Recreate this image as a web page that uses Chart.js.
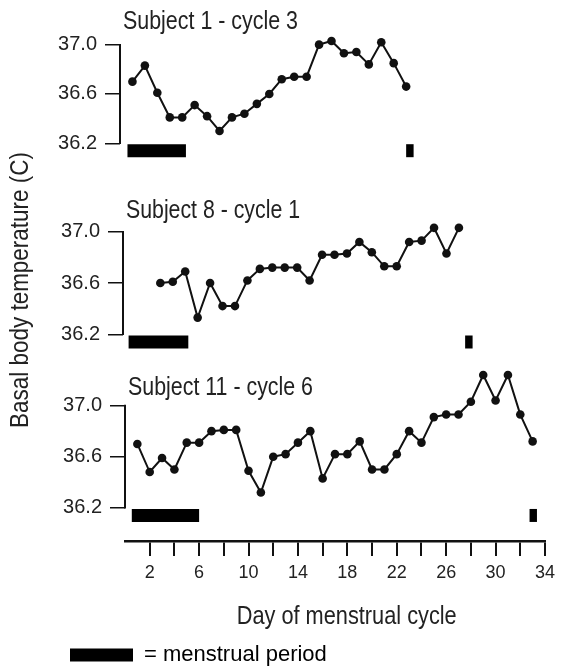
<!DOCTYPE html>
<html>
<head>
<meta charset="utf-8">
<script src="https://cdn.jsdelivr.net/npm/chart.js@4.4.1/dist/chart.umd.min.js"></script>
<style>
  html, body { margin: 0; padding: 0; background: #fff; overflow: hidden; }
  #wrap { position: relative; width: 561px; height: 668px; overflow: hidden; }
  #wrap canvas { position: absolute; top: 0; }
</style>
</head>
<body>
<div id="wrap">
  <canvas id="c1" width="561" height="668" style="left:-5px"></canvas>
  <canvas id="c2" width="561" height="668" style="left:-2px"></canvas>
  <canvas id="c3" width="561" height="676" style="left:0px"></canvas>
</div>
<script>
// basal body temperature readings
const days1 = [1, 2, 3, 4, 5, 6, 7, 8, 9, 10, 11, 12, 13, 14, 15, 16, 17, 18, 19, 20, 21, 22, 23];
const temps1 = [36.7, 36.83, 36.61, 36.41, 36.41, 36.51, 36.42, 36.3, 36.41, 36.44, 36.52, 36.6, 36.72, 36.74, 36.74, 37.0, 37.03, 36.93, 36.94, 36.84, 37.02, 36.85, 36.66];
const period1 = [0.6, 5.3];
const nextPeriod1 = 23.0;

const days2 = [3, 4, 5, 6, 7, 8, 9, 10, 11, 12, 13, 14, 15, 16, 17, 18, 19, 20, 21, 22, 23, 24, 25, 26, 27];
const temps2 = [36.6, 36.61, 36.69, 36.33, 36.6, 36.42, 36.42, 36.62, 36.71, 36.72, 36.72, 36.72, 36.62, 36.82, 36.82, 36.83, 36.92, 36.84, 36.73, 36.73, 36.92, 36.93, 37.03, 36.83, 37.03];
const period2 = [0.45, 5.25];
const nextPeriod2 = 27.5;

const days3 = [1, 2, 3, 4, 5, 6, 7, 8, 9, 10, 11, 12, 13, 14, 15, 16, 17, 18, 19, 20, 21, 22, 23, 24, 25, 26, 27, 28, 29, 30, 31, 32, 33];
const temps3 = [36.7, 36.48, 36.59, 36.5, 36.71, 36.71, 36.8, 36.81, 36.81, 36.49, 36.32, 36.6, 36.62, 36.71, 36.8, 36.43, 36.62, 36.62, 36.72, 36.5, 36.5, 36.62, 36.8, 36.71, 36.91, 36.93, 36.93, 37.03, 37.24, 37.04, 37.24, 36.93, 36.72];
const period3 = [0.55, 6.0];
const nextPeriod3 = 32.75;

const tempTicks = [36.2, 36.6, 37.0];
const dayLabels = [2, 6, 10, 14, 18, 22, 26, 30, 34];

const ink = '#111';
const textInk = '#222';
const fontFamily = "'Liberation Sans Narrow', 'Liberation Sans', Arial, sans-serif";
const barLevel = 36.14;

Chart.defaults.font.family = fontFamily;
Chart.defaults.color = textInk;

// y axis line only spans the labelled range
const axisLine = {
  id: 'axisLine',
  beforeDatasetsDraw(chart) {
    const y = chart.scales.y;
    const x = chart.chartArea.left;
    const ctx = chart.ctx;
    ctx.save();
    ctx.strokeStyle = ink;
    ctx.lineWidth = 2;
    ctx.beginPath();
    ctx.moveTo(x, y.getPixelForValue(tempTicks[tempTicks.length - 1]) - 0.75);
    ctx.lineTo(x, y.getPixelForValue(tempTicks[0]) + 0.75);
    ctx.stroke();
    ctx.restore();
  }
};

// captions squeezed to the narrow lettering of the figure
function squeeze(ctx, text, width) {
  const w = ctx.measureText(text).width;
  ctx.scale(Math.min(1, width / w), 1);
}

const panelText = {
  id: 'panelText',
  afterDraw(chart, args, opts) {
    const ctx = chart.ctx;
    const top = chart.scales.y.getPixelForValue(tempTicks[tempTicks.length - 1]);
    ctx.fillStyle = textInk;
    if (opts.title) {
      ctx.save();
      ctx.font = '26px ' + fontFamily;
      ctx.translate(chart.chartArea.left + 3, top - opts.gap);
      squeeze(ctx, opts.title, opts.width);
      ctx.textBaseline = 'alphabetic';
      ctx.fillText(opts.title, 0, 0);
      ctx.restore();
    }
    if (opts.side) {
      ctx.save();
      ctx.font = '25px ' + fontFamily;
      ctx.translate(opts.side.x, opts.side.y);
      ctx.rotate(-Math.PI / 2);
      squeeze(ctx, opts.side.text, opts.side.width);
      ctx.textAlign = 'center';
      ctx.textBaseline = 'middle';
      ctx.fillText(opts.side.text, 0, 0);
      ctx.restore();
    }
    if (opts.bottom) {
      const xs = chart.scales.x;
      ctx.save();
      ctx.font = '25px ' + fontFamily;
      ctx.translate(opts.bottom.x, xs.top + opts.bottom.dy);
      squeeze(ctx, opts.bottom.text, opts.bottom.width);
      ctx.textAlign = 'center';
      ctx.textBaseline = 'middle';
      ctx.fillText(opts.bottom.text, 0, 0);
      ctx.restore();
    }
  }
};

function periodSets(period, nextPeriod) {
  const common = {
    showLine: true,
    borderColor: '#000',
    backgroundColor: '#000',
    borderWidth: 13,
    borderCapStyle: 'butt',
    pointRadius: 0,
    clip: false
  };
  return [
    Object.assign({ label: 'menstrual period', data: period.map(d => ({ x: d, y: barLevel })) }, common),
    Object.assign({ label: 'next period', data: [{ x: nextPeriod, y: barLevel }, { x: nextPeriod + 0.6, y: barLevel }] }, common)
  ];
}

function makePanel(id, cfg) {
  const showX = !!cfg.showX;
  new Chart(document.getElementById(id), {
    type: 'scatter',
    data: {
      datasets: periodSets(cfg.period, cfg.nextPeriod).concat([{
        label: 'temperature',
        data: cfg.days.map((d, i) => ({ x: d, y: cfg.temps[i] })),
        showLine: true,
        borderColor: ink,
        borderWidth: 2,
        tension: 0,
        pointRadius: 4.3,
        pointBackgroundColor: ink,
        pointBorderWidth: 0,
        clip: false
      }])
    },
    options: {
      responsive: false,
      animation: false,
      devicePixelRatio: 1,
      layout: { padding: { top: cfg.padTop, bottom: cfg.padBottom, left: 60, right: 13 } },
      scales: {
        x: {
          type: 'linear',
          min: 0,
          max: 34,
          display: showX,
          afterFit(s) { if (showX) s.height = 93; },
          ticks: {
            stepSize: 2,
            autoSkip: false,
            maxRotation: 0,
            padding: 6,
            font: { size: 18 },
            color: textInk,
            callback: v => v === 0 ? null : (dayLabels.includes(v) ? String(v) : '')
          },
          grid: { drawOnChartArea: false, drawTicks: true, tickLength: 15, color: ink, lineWidth: 2 },
          border: { display: true, color: ink, width: 2.5 }
        },
        y: {
          min: cfg.yMin,
          max: cfg.yMax,
          afterFit(s) { s.width = 65; },
          afterBuildTicks(s) { s.ticks = tempTicks.map(v => ({ value: v })); },
          ticks: {
            padding: 8,
            font: { size: 20 },
            color: textInk,
            callback: v => Number(v).toFixed(1)
          },
          grid: { drawOnChartArea: false, drawTicks: true, tickLength: 15, color: ink, lineWidth: 1.5 },
          border: { display: false }
        }
      },
      plugins: {
        tooltip: { enabled: false },
        legend: {
          display: showX,
          position: 'bottom',
          align: 'start',
          labels: {
            padding: 10,
            boxWidth: 63,
            boxHeight: 13,
            color: textInk,
            font: { size: 22 },
            generateLabels: () => [{
              text: '= menstrual period',
              fillStyle: '#000',
              strokeStyle: '#000',
              lineWidth: 0,
              hidden: false,
              datasetIndex: 0
            }]
          }
        },
        panelText: { title: cfg.title, gap: cfg.gap, width: cfg.titleWidth, side: cfg.side, bottom: cfg.bottom }
      }
    },
    plugins: [axisLine, panelText]
  });
}

makePanel('c1', {
  title: 'Subject 1 - cycle 3', gap: 16, titleWidth: 175,
  days: days1, temps: temps1, period: period1, nextPeriod: nextPeriod1,
  yMin: 36.2, yMax: 37.2, padTop: 18.3, padBottom: 524.7
});

makePanel('c2', {
  title: 'Subject 8 - cycle 1', gap: 13.5, titleWidth: 174,
  days: days2, temps: temps2, period: period2, nextPeriod: nextPeriod2,
  yMin: 36.2, yMax: 37.3, padTop: 193.2, padBottom: 333.7
});

makePanel('c3', {
  title: 'Subject 11 - cycle 6', gap: 11, titleWidth: 185,
  days: days3, temps: temps3, period: period3, nextPeriod: nextPeriod3,
  yMin: 35.94, yMax: 37.3, padTop: 367.3, padBottom: 0, showX: true,
  side: { text: 'Basal body temperature (C)', x: 21.5, y: 290, width: 276 },
  bottom: { text: 'Day of menstrual cycle', x: 346.7, dy: 76, width: 220 }
});
</script>
</body>
</html>
